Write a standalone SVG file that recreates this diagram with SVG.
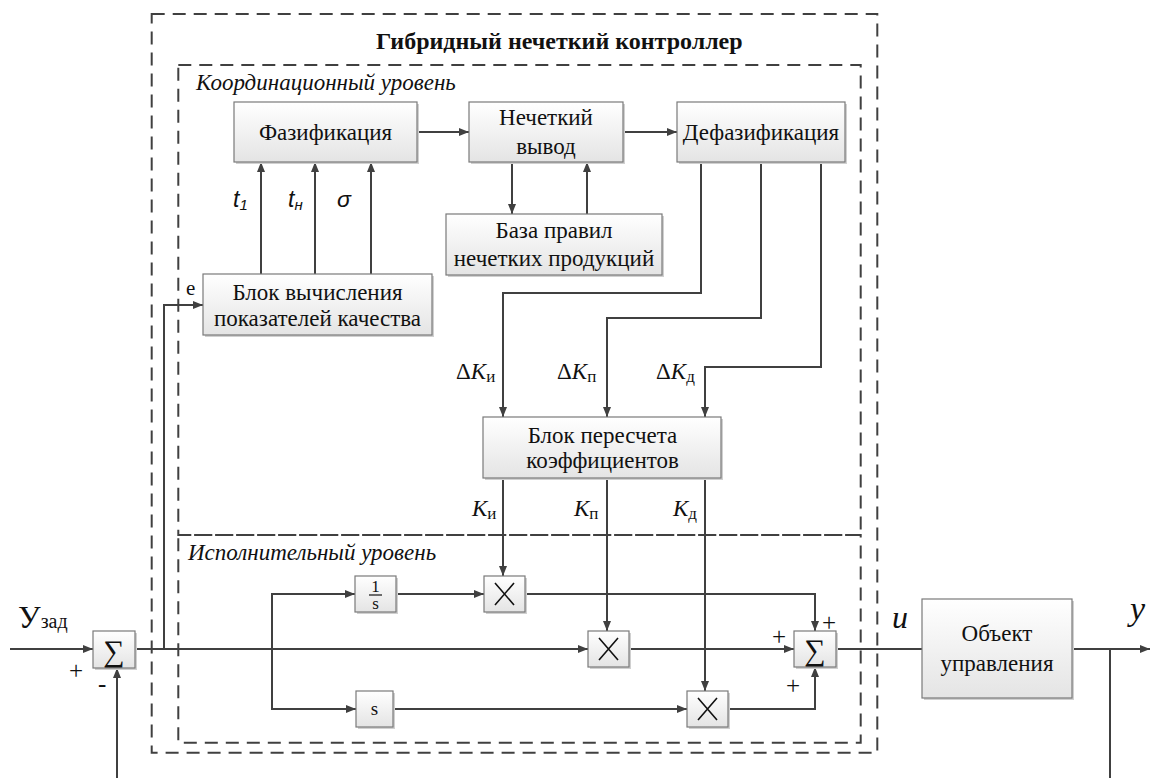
<svg xmlns="http://www.w3.org/2000/svg" width="1151" height="778" viewBox="0 0 1151 778">
<defs>
<linearGradient id="g" x1="0" y1="0" x2="0" y2="1">
<stop offset="0" stop-color="#ffffff"/>
<stop offset="1" stop-color="#e4e4e4"/>
</linearGradient>
<marker id="a" viewBox="0 0 10 8" refX="10" refY="4" markerWidth="10" markerHeight="8" markerUnits="userSpaceOnUse" orient="auto">
<path d="M0,0 L10,4 L0,8 z" fill="#404040"/>
</marker>
<style>
.b{fill:url(#g);stroke:#7a7a7a;stroke-width:1.2}
.sh{fill:#d0d0d0}
.c{fill:none;stroke:#404040;stroke-width:2}
.ca{fill:none;stroke:#404040;stroke-width:2;marker-end:url(#a)}
.d{fill:none;stroke:#404040;stroke-width:2;stroke-dasharray:13 8}
.t{font-family:"Liberation Serif","DejaVu Serif","Times New Roman",serif;font-size:23px;fill:#111;text-anchor:middle}
.it{font-family:"Liberation Serif","DejaVu Serif","Times New Roman",serif;font-style:italic;font-size:23px;fill:#111}
.sa{font-family:"Liberation Sans","DejaVu Sans",sans-serif;font-style:italic;font-size:23px;fill:#111}
.p{font-family:"Liberation Serif","DejaVu Serif","Times New Roman",serif;font-size:25px;fill:#111}
.x{stroke:#111;stroke-width:1.6}
</style>
</defs>
<rect width="1151" height="778" fill="#fff"/>

<g id="frames">
<rect class="d" x="151.7" y="14" width="725.6" height="738.7"/>
<rect class="d" x="178.3" y="65" width="682.4" height="470"/>
<rect class="d" x="178.3" y="535" width="682.4" height="207.7"/>
<text x="376" y="49" font-family="Liberation Serif, DejaVu Serif, serif" font-weight="bold" font-size="24" fill="#111">Гибридный нечеткий контроллер</text>
<text class="it" x="196" y="90">Координационный уровень</text>
<text class="it" x="188" y="560">Исполнительный уровень</text>
</g>

<g id="connectors">
<path class="ca" d="M417,132 H469"/>
<path class="ca" d="M623,132 H677"/>
<path class="ca" d="M512,162 V214"/>
<path class="ca" d="M587,214 V162"/>
<path class="ca" d="M261,274 V162"/>
<path class="ca" d="M315,274 V162"/>
<path class="ca" d="M371,274 V162"/>
<path class="ca" d="M701,162 V293 H503 V417"/>
<path class="ca" d="M761,162 V318 H607 V417"/>
<path class="ca" d="M821,162 V367 H705 V417"/>
<path class="ca" d="M503,478 V576"/>
<path class="ca" d="M607,478 V631"/>
<path class="ca" d="M705,478 V691"/>
<path class="ca" d="M10,649 H93"/>
<path class="ca" d="M117,778 V668"/>
<path class="ca" d="M135,649 H588"/>
<path class="ca" d="M164,649 V305 H203"/>
<path class="ca" d="M272,649 V594 H355"/>
<path class="ca" d="M272,649 V709 H356"/>
<path class="ca" d="M396,594 H484"/>
<path class="ca" d="M393,709 H687"/>
<path class="ca" d="M525,594 H815 V631"/>
<path class="ca" d="M629,649 H794"/>
<path class="ca" d="M728,709 H815 V667"/>
<path class="c" d="M836,649 H922"/>
<path class="ca" d="M1072,649 H1150"/>
<path class="c" d="M1110,649 V778"/>
</g>

<g id="fuzz">
<rect class="sh" x="236" y="104" width="183" height="60"/>
<rect class="b" x="234" y="102" width="183" height="60"/>
<text class="t" x="325.5" y="140">Фазификация</text>
</g>
<g id="infer">
<rect class="sh" x="471" y="104" width="154" height="60"/>
<rect class="b" x="469" y="102" width="154" height="60"/>
<text class="t" x="546" y="125">Нечеткий</text>
<text class="t" x="546" y="154">вывод</text>
</g>
<g id="defuzz">
<rect class="sh" x="679" y="104" width="168" height="60"/>
<rect class="b" x="677" y="102" width="168" height="60"/>
<text class="t" x="761" y="140">Дефазификация</text>
</g>
<g id="rules">
<rect class="sh" x="448" y="216" width="216" height="61"/>
<rect class="b" x="446" y="214" width="216" height="61"/>
<text class="t" x="554" y="238">База правил</text>
<text class="t" x="554" y="266">нечетких продукций</text>
</g>
<g id="quality">
<rect class="sh" x="205" y="276" width="229" height="61"/>
<rect class="b" x="203" y="274" width="229" height="61"/>
<text class="t" x="317.5" y="300">Блок вычисления</text>
<text class="t" x="317.5" y="326">показателей качества</text>
<text class="p" style="font-size:21px" x="186" y="295">e</text>
</g>
<g id="recalc">
<rect class="sh" x="485" y="419" width="238" height="61"/>
<rect class="b" x="483" y="417" width="238" height="61"/>
<text class="t" x="602.5" y="443">Блок пересчета</text>
<text class="t" x="602.5" y="468">коэффициентов</text>
</g>

<g id="labels">
<text class="sa" x="233" y="207">t<tspan font-size="15" dy="3">1</tspan></text>
<text class="sa" x="288" y="207">t<tspan font-size="15" dy="3">н</tspan></text>
<text class="sa" x="337" y="207">σ</text>
<text class="it" x="456" y="379"><tspan font-style="normal">Δ</tspan>K<tspan font-style="normal" font-size="17" dy="3">и</tspan></text>
<text class="it" x="557" y="379"><tspan font-style="normal">Δ</tspan>K<tspan font-style="normal" font-size="17" dy="3">п</tspan></text>
<text class="it" x="656" y="379"><tspan font-style="normal">Δ</tspan>K<tspan font-style="normal" font-size="17" dy="3">д</tspan></text>
<text class="it" x="472" y="516">K<tspan font-style="normal" font-size="17" dy="3">и</tspan></text>
<text class="it" x="574" y="516">K<tspan font-style="normal" font-size="17" dy="3">п</tspan></text>
<text class="it" x="673" y="516">K<tspan font-style="normal" font-size="17" dy="3">д</tspan></text>
<text class="p" style="font-size:32px" x="18" y="628">У<tspan font-size="20">зад</tspan></text>
<text class="p" x="69" y="679">+</text>
<text class="p" x="98" y="692">-</text>
<text class="p" x="772" y="645">+</text>
<text class="p" x="822" y="631">+</text>
<text class="p" x="786" y="694">+</text>
<text class="p" style="font-style:italic;font-size:32px" x="892" y="628">u</text>
<text class="p" style="font-style:italic;font-size:34px" x="1130" y="620">y</text>
</g>

<g id="sum1">
<rect class="sh" x="95" y="633" width="42" height="37"/>
<rect class="b" x="93" y="631" width="42" height="37"/>
<text class="t" x="114" y="661" style="font-size:30px">∑</text>
</g>
<g id="integ">
<rect class="sh" x="357" y="578" width="41" height="36"/>
<rect class="b" x="355" y="576" width="41" height="36"/>
<text class="t" x="375.5" y="592" style="font-size:17px">1</text>
<line x1="369" y1="595" x2="382" y2="595" stroke="#111" stroke-width="1.2"/>
<text class="t" x="375.5" y="609" style="font-size:17px">s</text>
</g>
<g id="deriv">
<rect class="sh" x="358" y="693" width="37" height="36"/>
<rect class="b" x="356" y="691" width="37" height="36"/>
<text class="t" x="374.5" y="715" style="font-size:19px">s</text>
</g>
<g id="mul1">
<rect class="sh" x="486" y="578" width="41" height="36"/>
<rect class="b" x="484" y="576" width="41" height="36"/>
<path class="x" d="M495,583 L514,605 M514,583 L495,605"/>
</g>
<g id="mul2">
<rect class="sh" x="590" y="633" width="41" height="36"/>
<rect class="b" x="588" y="631" width="41" height="36"/>
<path class="x" d="M599,638 L618,660 M618,638 L599,660"/>
</g>
<g id="mul3">
<rect class="sh" x="689" y="693" width="41" height="36"/>
<rect class="b" x="687" y="691" width="41" height="36"/>
<path class="x" d="M698,698 L717,720 M717,698 L698,720"/>
</g>
<g id="sum2">
<rect class="sh" x="796" y="633" width="42" height="36"/>
<rect class="b" x="794" y="631" width="42" height="36"/>
<text class="t" x="815" y="660" style="font-size:30px">∑</text>
</g>
<g id="plant">
<rect class="sh" x="924" y="601" width="150" height="99"/>
<rect class="b" x="922" y="599" width="150" height="99"/>
<text class="t" x="997" y="641">Объект</text>
<text class="t" x="997" y="671">управления</text>
</g>
</svg>
